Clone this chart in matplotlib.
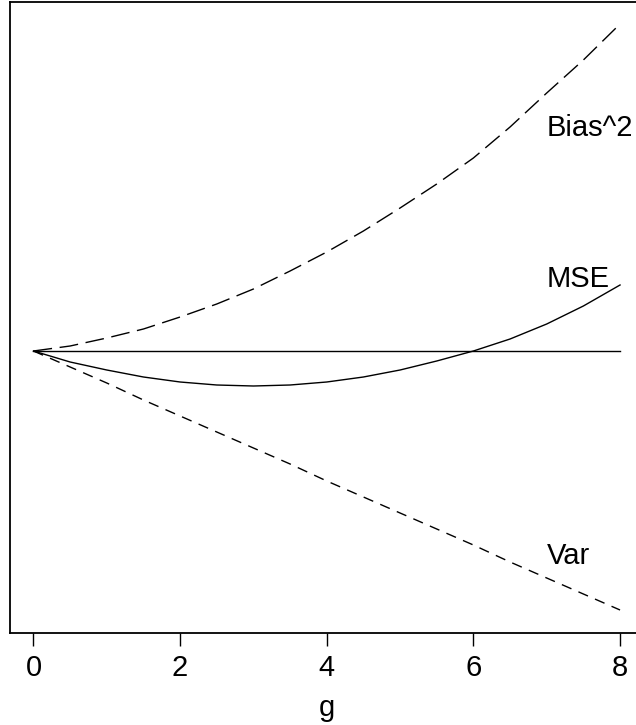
import matplotlib.pyplot as plt

plt.rcParams['font.family'] = ['Liberation Sans', 'DejaVu Sans']

# shrinkage factor g and the curves
# (relative to the value at g = 0)
g = [0, 0.5, 1, 1.5, 2, 2.5, 3, 3.5, 4, 4.5, 5, 5.5, 6, 6.5, 7, 7.5, 8]
bias2 = [0, 0.05, 0.13, 0.22, 0.34, 0.47, 0.62, 0.80, 0.99, 1.20,
         1.43, 1.67, 1.93, 2.24, 2.58, 2.91, 3.27]
var = [0, -0.16, -0.32, -0.49, -0.65, -0.81, -0.97, -1.13, -1.30, -1.46,
       -1.62, -1.78, -1.94, -2.11, -2.27, -2.43, -2.59]
mse = [0, -0.11, -0.19, -0.26, -0.31, -0.34, -0.35, -0.34, -0.31, -0.26,
       -0.19, -0.10, 0.0, 0.12, 0.27, 0.45, 0.66]
ref = [0] * len(g)

labels = ['Bias^2', 'MSE', 'Var']
label_y = [2.23, 0.72, -2.05]
xticks = [0, 2, 4, 6, 8]

W, H = 636, 725
fig = plt.figure(figsize=(W / 100, H / 100), dpi=100)
# left at 10px, top at 2px, bottom at 633px; right edge falls off the picture
ax = fig.add_axes([10 / W, (H - 633) / H, 633.5 / W, 631 / H])

ax.plot(g, ref, color='black', lw=1.0)
ax.plot(g, mse, color='black', lw=1.0)
ax.plot(g, bias2, color='black', lw=1.0, dashes=(13.5, 5.5))
ax.plot(g, var, color='black', lw=1.0, dashes=(7.5, 5.5))

for txt, y in zip(labels, label_y):
    ax.text(7, y, txt, ha='left', va='center', fontsize=21)

ax.set_xlim(-0.32, 8.32)
ax.set_ylim(-2.82, 3.49)
ax.set_xticks(xticks)
ax.set_xticklabels([str(t) for t in xticks])
ax.set_yticks([])
ax.tick_params(axis='x', length=9.4, width=1.0, pad=6, labelsize=21)
ax.set_xlabel('g', fontsize=21, labelpad=8)
for s in ax.spines.values():
    s.set_linewidth(1.3)
ax.spines['right'].set_visible(False)

fig.savefig('out.png', dpi=100)
